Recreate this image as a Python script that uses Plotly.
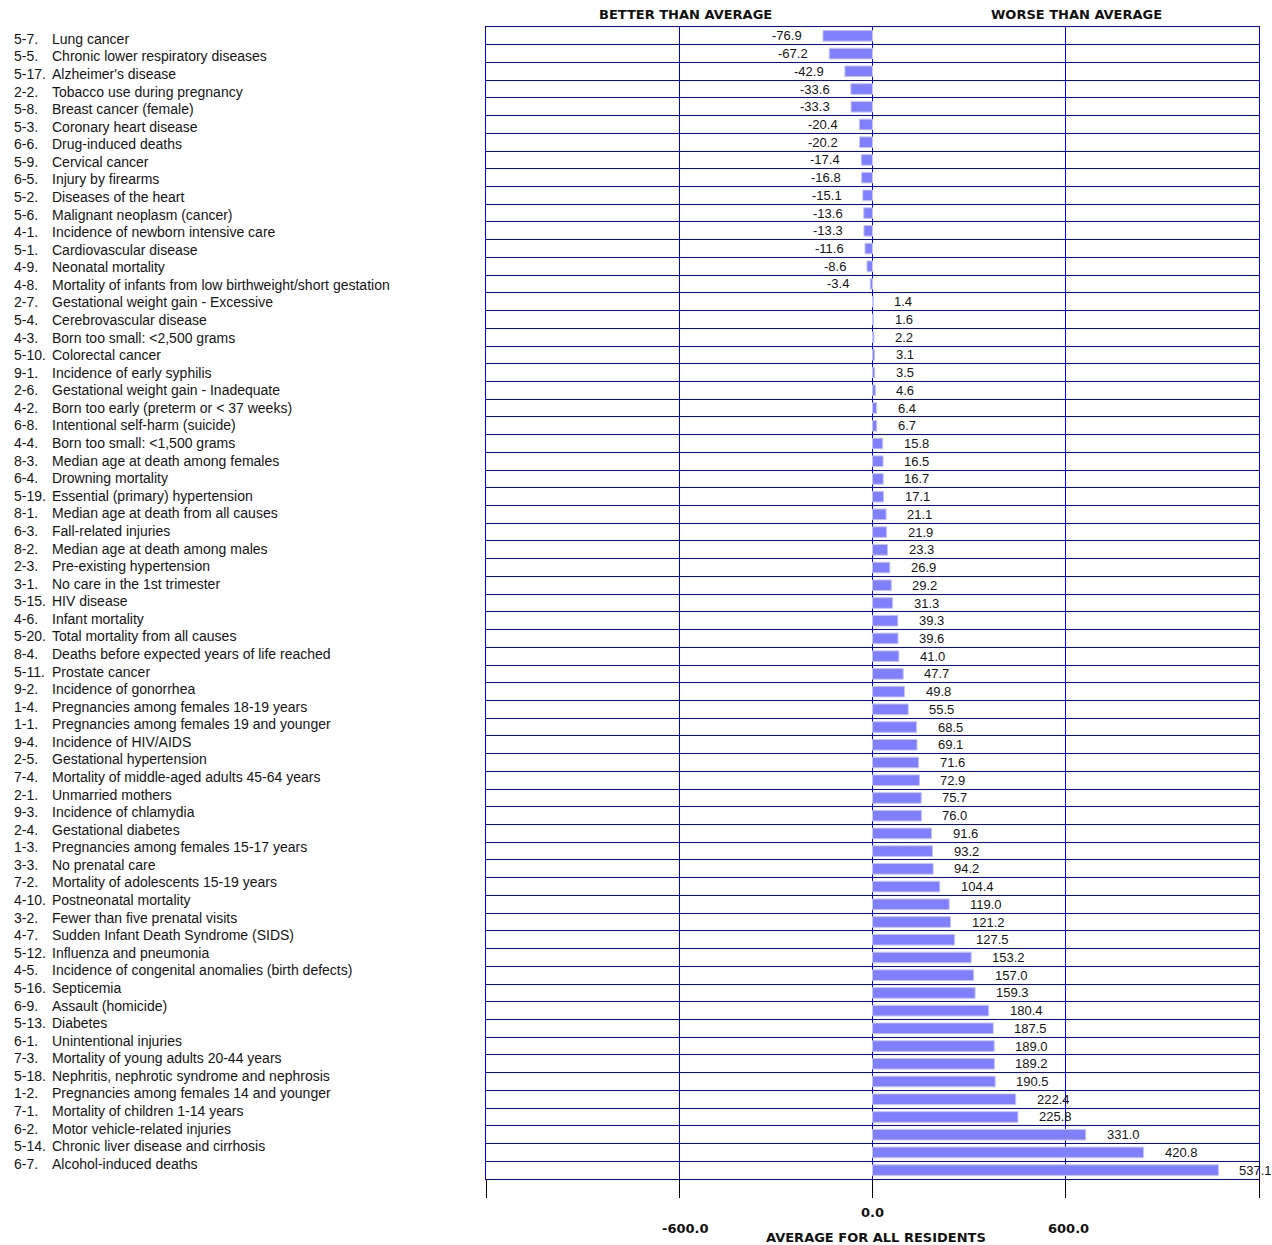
import plotly.graph_objects as go

codes = ["5-7.", "5-5.", "5-17.", "2-2.", "5-8.", "5-3.", "6-6.", "5-9.", "6-5.", "5-2.",
         "5-6.", "4-1.", "5-1.", "4-9.", "4-8.", "2-7.", "5-4.", "4-3.", "5-10.", "9-1.",
         "2-6.", "4-2.", "6-8.", "4-4.", "8-3.", "6-4.", "5-19.", "8-1.", "6-3.", "8-2.",
         "2-3.", "3-1.", "5-15.", "4-6.", "5-20.", "8-4.", "5-11.", "9-2.", "1-4.", "1-1.",
         "9-4.", "2-5.", "7-4.", "2-1.", "9-3.", "2-4.", "1-3.", "3-3.", "7-2.", "4-10.",
         "3-2.", "4-7.", "5-12.", "4-5.", "5-16.", "6-9.", "5-13.", "6-1.", "7-3.", "5-18.",
         "1-2.", "7-1.", "6-2.", "5-14.", "6-7."]

names = ["Lung cancer", "Chronic lower respiratory diseases", "Alzheimer's disease",
         "Tobacco use during pregnancy", "Breast cancer (female)", "Coronary heart disease",
         "Drug-induced deaths", "Cervical cancer", "Injury by firearms", "Diseases of the heart",
         "Malignant neoplasm (cancer)", "Incidence of newborn intensive care",
         "Cardiovascular disease", "Neonatal mortality",
         "Mortality of infants from low birthweight/short gestation",
         "Gestational weight gain - Excessive", "Cerebrovascular disease",
         "Born too small: <2,500 grams", "Colorectal cancer", "Incidence of early syphilis",
         "Gestational weight gain - Inadequate", "Born too early (preterm or < 37 weeks)",
         "Intentional self-harm (suicide)", "Born too small: <1,500 grams",
         "Median age at death among females", "Drowning mortality",
         "Essential (primary) hypertension", "Median age at death from all causes",
         "Fall-related injuries", "Median age at death among males", "Pre-existing hypertension",
         "No care in the 1st trimester", "HIV disease", "Infant mortality",
         "Total mortality from all causes", "Deaths before expected years of life reached",
         "Prostate cancer", "Incidence of gonorrhea", "Pregnancies among females 18-19 years",
         "Pregnancies among females 19 and younger", "Incidence of HIV/AIDS",
         "Gestational hypertension", "Mortality of middle-aged adults 45-64 years",
         "Unmarried mothers", "Incidence of chlamydia", "Gestational diabetes",
         "Pregnancies among females 15-17 years", "No prenatal care",
         "Mortality of adolescents 15-19 years", "Postneonatal mortality",
         "Fewer than five prenatal visits", "Sudden Infant Death Syndrome (SIDS)",
         "Influenza and pneumonia", "Incidence of congenital anomalies (birth defects)",
         "Septicemia", "Assault (homicide)", "Diabetes", "Unintentional injuries",
         "Mortality of young adults 20-44 years", "Nephritis, nephrotic syndrome and nephrosis",
         "Pregnancies among females 14 and younger", "Mortality of children 1-14 years",
         "Motor vehicle-related injuries", "Chronic liver disease and cirrhosis",
         "Alcohol-induced deaths"]

values = [-76.9, -67.2, -42.9, -33.6, -33.3, -20.4, -20.2, -17.4, -16.8, -15.1,
          -13.6, -13.3, -11.6, -8.6, -3.4, 1.4, 1.6, 2.2, 3.1, 3.5,
          4.6, 6.4, 6.7, 15.8, 16.5, 16.7, 17.1, 21.1, 21.9, 23.3,
          26.9, 29.2, 31.3, 39.3, 39.6, 41.0, 47.7, 49.8, 55.5, 68.5,
          69.1, 71.6, 72.9, 75.7, 76.0, 91.6, 93.2, 94.2, 104.4, 119.0,
          121.2, 127.5, 153.2, 157.0, 159.3, 180.4, 187.5, 189.0, 189.2, 190.5,
          222.4, 225.8, 331.0, 420.8, 537.1]

scale_ticks = [-1200, -600, 0, 600, 1200]
scale_labels = [-600.0, 0.0, 600.0]

header_left = "BETTER THAN AVERAGE"
header_right = "WORSE THAN AVERAGE"
axis_title = "AVERAGE FOR ALL RESIDENTS"

BLUE = "#0000EE"
n = len(values)
rows = list(range(n))

fig = go.Figure()
fig.add_trace(go.Bar(
    x=values, y=rows, orientation="h", width=0.6,
    marker=dict(color="#8080FF", line=dict(color="#C4C4FF", width=1)),
    xaxis="x", yaxis="y", hoverinfo="skip", showlegend=False,
))
fig.add_trace(go.Scatter(x=[None], y=[None], xaxis="x2", yaxis="y2",
                         showlegend=False, hoverinfo="skip"))

ann = []
label_font = dict(family="Liberation Sans, Arial, sans-serif", size=14, color="#141414")
for i in rows:
    ann.append(dict(x=-0.6106, xref="paper", y=i, yref="y2", text=codes[i], xshift=-2,
                    xanchor="left", yanchor="middle", showarrow=False, font=label_font))
    ann.append(dict(x=-0.5618, xref="paper", y=i, yref="y2", text=names[i], xshift=-2,
                    xanchor="left", yanchor="middle", showarrow=False, font=label_font))
    v = values[i]
    ann.append(dict(x=v, xref="x", y=i, yref="y", text=f"{v:.1f}",
                    xanchor="right" if v < 0 else "left",
                    xshift=-19 if v < 0 else 19, yanchor="middle", showarrow=False,
                    font=dict(family="Liberation Sans, Arial, sans-serif", size=13,
                              color="#141414")))

bold_font = dict(family="DejaVu Sans, Verdana, sans-serif", size=13, color="#111111",
                 weight="bold")
ann.append(dict(x=0.2587, xref="paper", y=1.0108, yref="paper", text=header_left,
                xanchor="center", yanchor="middle", showarrow=False, font=bold_font))
ann.append(dict(x=0.7633, xref="paper", y=1.0108, yref="paper", text=header_right,
                xanchor="center", yanchor="middle", showarrow=False, font=bold_font))
for v in scale_labels:
    ann.append(dict(x=v * 1.0, xref="x2",
                    y=-0.0295 if v == 0 else -0.0431, yref="paper",
                    text=f"{v:.1f}", xanchor="center", yanchor="middle",
                    xshift=0 if v == 0 else (6 if v < 0 else 3),
                    showarrow=False, font=bold_font))
ann.append(dict(x=0.5043, xref="paper", y=-0.0512, yref="paper", text=axis_title,
                xanchor="center", yanchor="middle", showarrow=False, font=bold_font))

fig.update_layout(
    width=1272, height=1245,
    margin=dict(l=486, r=13, t=27, b=66),
    paper_bgcolor="white", plot_bgcolor="white",
    bargap=0.4,
    xaxis=dict(domain=[0, 1], range=[-600, 600], showgrid=False, zeroline=False,
               showticklabels=False, ticks="", showline=True, mirror=True,
               linecolor=BLUE, linewidth=1, fixedrange=True),
    yaxis=dict(range=[n - 0.5, -0.5], tickvals=[i - 0.5 for i in range(n + 1)],
               showticklabels=False, ticks="", showgrid=True, gridcolor=BLUE,
               gridwidth=1, zeroline=False, showline=True, mirror=True,
               linecolor=BLUE, linewidth=1, fixedrange=True),
    xaxis2=dict(overlaying="x", anchor="y", range=[scale_ticks[0], scale_ticks[-1]],
                tickvals=scale_ticks, ticks="outside", ticklen=18, tickcolor="black",
                tickwidth=1, showticklabels=False, showgrid=True, gridcolor=BLUE,
                gridwidth=1, zeroline=False, showline=False, side="bottom",
                fixedrange=True),
    yaxis2=dict(overlaying="y", anchor="x", range=[64.87, -0.671], visible=False,
                fixedrange=True),
    annotations=ann,
    showlegend=False,
)

fig.write_html(
    "out.html",
    config={"displayModeBar": False},
    post_script="document.body.style.margin='0';document.body.style.padding='0';"
                "document.body.style.overflow='hidden';",
)
